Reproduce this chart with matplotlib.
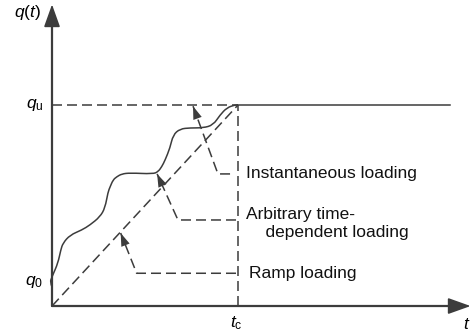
import matplotlib.pyplot as plt
from matplotlib.path import Path
from matplotlib.patches import PathPatch

plt.rcParams['font.family'] = 'Liberation Sans'
plt.rcParams['mathtext.fontset'] = 'custom'
plt.rcParams['mathtext.rm'] = 'Liberation Sans'
plt.rcParams['mathtext.it'] = 'Liberation Sans:italic'
plt.rcParams['lines.scale_dashes'] = False

# time in units of t_c, load in units of q_u
t_c = 1.0
q_u = 1.0
q_0 = 0.12
t_max = 2.25
q_max = 1.50
t_end = 2.14

# arbitrary time-dependent loading path
t_curve = [0.0, -0.011, 0.0, 0.004, 0.032, 0.047, 0.059, 0.097, 0.160, 0.204,
           0.258, 0.285, 0.301, 0.312, 0.328, 0.348, 0.375, 0.419, 0.543, 0.570,
           0.590, 0.608, 0.634, 0.651, 0.688, 0.742, 0.812, 0.866, 0.903, 0.941,
           0.984, 1.0]
q_curve = [0.095, 0.119, 0.144, 0.154, 0.214, 0.279, 0.313, 0.353, 0.378, 0.403,
           0.444, 0.488, 0.567, 0.592, 0.627, 0.643, 0.657, 0.662, 0.657, 0.668,
           0.693, 0.726, 0.786, 0.851, 0.881, 0.886, 0.886, 0.900, 0.950, 0.987,
           1.0, 1.0]

# leader lines: arrow tip, elbow, end near t_c
labels = ['Instantaneous loading', 'Arbitrary time-\n    dependent loading', 'Ramp loading']
tips = [(0.758, 0.994), (0.565, 0.657), (0.369, 0.363)]
elbows = [(0.892, 0.657), (0.677, 0.428), (0.455, 0.163)]
ends = [(0.957, 0.657), (0.989, 0.428), (0.989, 0.163)]
label_pos = [(1.041, 0.657), (1.043, 0.412), (1.059, 0.160)]

c = '#3c3c3c'
dash = (0, (7.2, 3.6))
fs = 12.5

fig = plt.figure(figsize=(4.73, 3.36), dpi=100)
ax = fig.add_axes([0, 0, 1, 1])
ax.set_xlim(-0.2796, 2.263)
ax.set_ylim(-0.149, 1.522)
ax.axis('off')

# axes with arrow heads
ax.plot([0, 0, t_max - 0.05], [q_max - 0.05, 0, 0], color=c, lw=1.6)
for tip in [(t_max, 0), (0, q_max)]:
    ax.annotate('', xy=tip, xytext=(0, 0),
                arrowprops=dict(arrowstyle='-|>,head_length=1.4,head_width=0.5',
                                mutation_scale=10, lw=1.2, color=c,
                                shrinkA=0, shrinkB=0))

# guide lines
ax.plot([0, t_c], [q_u, q_u], color=c, lw=1.1, linestyle=dash)
ax.plot([t_c, t_c], [0, q_u], color=c, lw=1.1, linestyle=dash)
ax.plot([0, t_c], [0, q_u], color=c, lw=1.1, linestyle=dash)

# loading history as a smooth quadratic bezier path through the points
pts = list(zip(t_curve, q_curve))
verts = [pts[0]]
codes = [Path.MOVETO]
for i in range(1, len(pts) - 1):
    mid = ((pts[i][0] + pts[i + 1][0]) / 2, (pts[i][1] + pts[i + 1][1]) / 2)
    verts += [pts[i], mid]
    codes += [Path.CURVE3, Path.CURVE3]
verts.append(pts[-1])
codes.append(Path.LINETO)
ax.add_patch(PathPatch(Path(verts, codes), fill=False, edgecolor=c, lw=1.1))
ax.plot([t_c, t_end], [q_u, q_u], color=c, lw=1.1)

for tip, elbow, end, text, pos in zip(tips, elbows, ends, labels, label_pos):
    ax.plot([end[0], elbow[0], tip[0]], [end[1], elbow[1], tip[1]],
            color=c, lw=1.1, linestyle=dash)
    ax.annotate('', xy=tip, xytext=elbow,
                arrowprops=dict(arrowstyle='-|>,head_length=0.94,head_width=0.32',
                                mutation_scale=10, lw=0, color=c,
                                shrinkA=0, shrinkB=0))
    ax.text(pos[0], pos[1], text, fontsize=fs, ha='left', va='center',
            color='#111111', linespacing=1.25)

# axis labels
ax.text(-0.048, q_u, r'$q_\mathrm{u}$', fontsize=fs, ha='right', va='center')
ax.text(-0.048, q_0, r'$q_\mathrm{0}$', fontsize=fs, ha='right', va='center')
ax.text(t_c - 0.01, -0.085, r'$t_\mathrm{c}$', fontsize=fs, ha='center', va='center')
ax.text(2.231, -0.09, r'$t$', fontsize=fs, ha='center', va='center')
ax.text(-0.134, 1.458, r'$q(t)$', fontsize=fs, ha='center', va='center')

fig.savefig('out.png', dpi=100)
